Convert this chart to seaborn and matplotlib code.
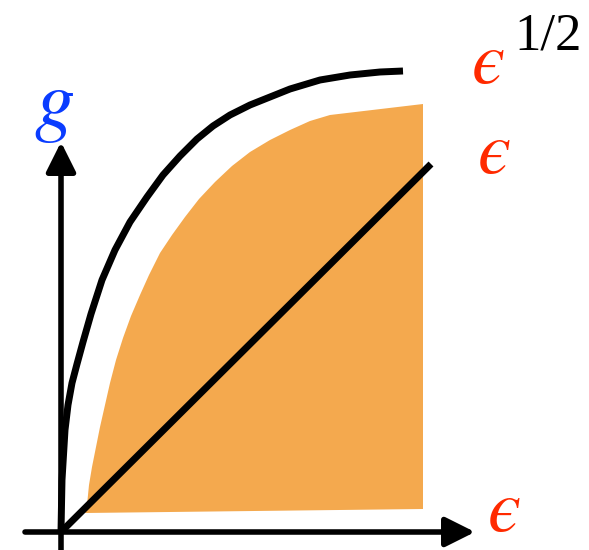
import numpy as np
import pandas as pd
import matplotlib.pyplot as plt
import seaborn as sns

# -------------------------------
# Shapes (origin = where the axes cross)
# -------------------------------
# upper black curve, g ~ eps^(1/2)
sqrt_x = [0, 0.5, 1, 2.5, 4, 7, 11, 16, 22, 30, 41, 54, 69, 86, 102, 119,
          136, 152, 169, 189, 209, 229, 259, 289, 319, 342]
sqrt_y = [0, 27, 52, 77, 102, 127, 149, 168, 190, 218, 252, 282, 310, 335,
          357, 376, 393, 406, 417, 427, 435, 443, 452, 457, 460, 461]

# straight line, g ~ eps
lin_x = [0, 370]
lin_y = [0, 368]

# orange region (outline from bottom-left, up the curved edge, round the right side)
fill_x = [24, 26, 28, 31, 35, 39, 44, 49, 55, 62, 70, 79, 88, 99, 111, 124,
          138, 154, 171, 189, 209, 229, 249, 269, 362, 362, 24]
fill_y = [19, 27, 47, 65, 85, 105, 127, 149, 172, 194, 216, 237, 257, 279,
          297, 315, 333, 350, 366, 380, 392, 402, 411, 417, 428, 23, 19]

# label texts
lbl_sqrt = '\u03f5'
lbl_half = '1/2'
lbl_lin = '\u03f5'
lbl_xaxis = '\u03f5'
lbl_yaxis = 'g'

sqrt_df = pd.DataFrame({'x': sqrt_x, 'y': sqrt_y})
lin_df = pd.DataFrame({'x': lin_x, 'y': lin_y})

# -------------------------------
# Style
# -------------------------------
sns.set_style('white')
plt.rcParams['font.family'] = ['Liberation Serif', 'DejaVu Serif']

red = '#ff2a00'
blue = '#0a3cff'
orange = '#f4a94e'
italic = dict(family=['STIXGeneral', 'DejaVu Serif'], style='italic')

fig = plt.figure(figsize=(5.89, 5.5), dpi=100)
ax = fig.add_axes([0, 0, 1, 1])
ax.set_xlim(-61, 528)
ax.set_ylim(-18, 532)
ax.axis('off')

# orange region
ax.fill(fill_x, fill_y, color=orange, lw=0, zorder=1)

# curves
sns.lineplot(data=sqrt_df, x='x', y='y', sort=False, estimator=None,
             color='black', lw=5, ax=ax, zorder=3)
sns.lineplot(data=lin_df, x='x', y='y', sort=False, estimator=None,
             color='black', lw=5, ax=ax, zorder=3)
for ln in ax.lines:
    ln.set_solid_capstyle('butt')
    ln.set_solid_joinstyle('round')

# axes with arrow heads
arrow = dict(arrowstyle='-|>,head_length=18,head_width=9', mutation_scale=1,
             lw=4, color='black', shrinkA=0, shrinkB=0)
ax.annotate('', xy=(414, 0), xytext=(-36, 0), arrowprops=arrow, zorder=4)
ax.annotate('', xy=(0, 390), xytext=(0, -20), arrowprops=arrow, zorder=4)

# labels
ax.text(427, 467, lbl_sqrt, color=red, fontsize=54, ha='center', va='center', **italic)
ax.text(487, 496, lbl_half, color='black', fontsize=38, ha='center', va='center')
ax.text(433, 377, lbl_lin, color=red, fontsize=54, ha='center', va='center', **italic)
ax.text(443, 19, lbl_xaxis, color=red, fontsize=54, ha='center', va='center', **italic)
ax.text(-7, 425, lbl_yaxis, color=blue, fontsize=58, ha='center', va='center', **italic)

plt.savefig('out.png', dpi=100)
